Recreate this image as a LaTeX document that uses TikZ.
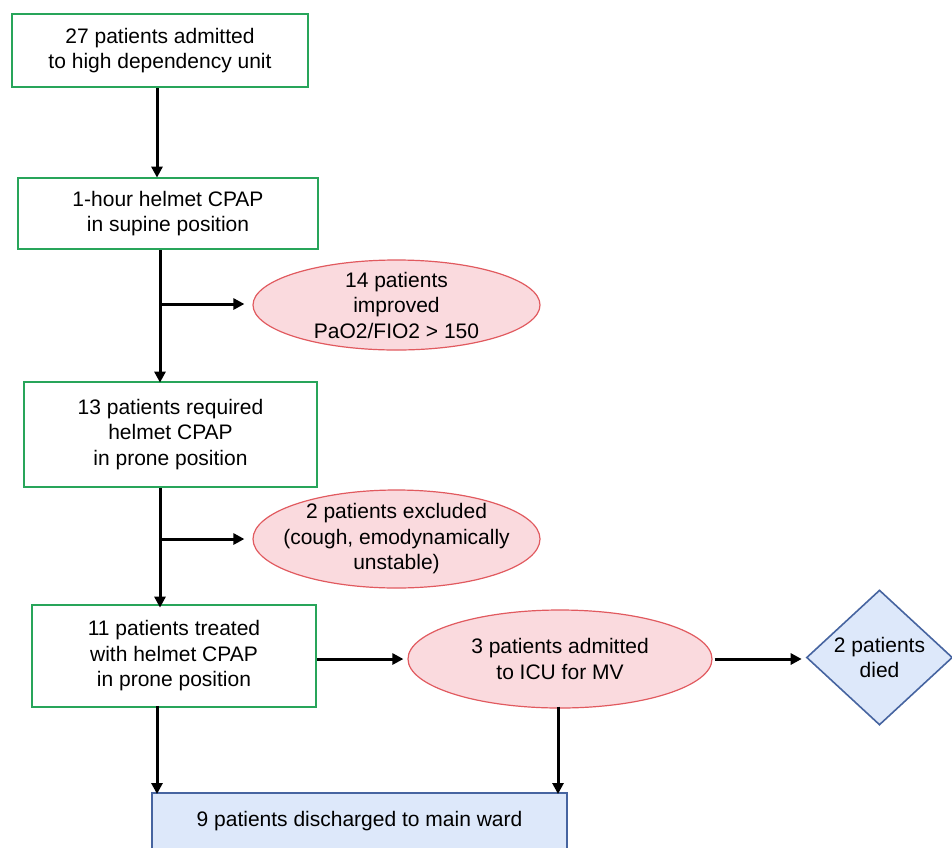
\documentclass[tikz,border=0pt]{standalone}
\usepackage{fontspec}
\setmainfont{Liberation Sans}
\usetikzlibrary{shapes.geometric,arrows.meta}
\definecolor{boxgreen}{RGB}{40,165,90}
\definecolor{pinkfill}{RGB}{250,218,222}
\definecolor{pinkline}{RGB}{225,90,95}
\definecolor{bluefill}{RGB}{221,232,250}
\definecolor{blueline}{RGB}{70,100,160}
\tikzset{
  gbox/.style={draw=boxgreen,line width=2.8pt,fill=white,align=center,inner sep=0pt},
  pell/.style={ellipse,draw=pinkline,line width=1.2pt,fill=pinkfill,align=center,inner sep=0pt},
  bbox/.style={draw=blueline,line width=1.6pt,fill=bluefill,align=center,inner sep=0pt},
  arr/.style={line width=3pt,-{Triangle[length=11pt,width=11pt]}},
  txt/.style={align=center,inner sep=0pt}
}
\begin{document}
\begin{tikzpicture}[x=1pt,y=-1pt,font=\fontsize{21}{25.5}\selectfont]
\useasboundingbox (0,0) rectangle (952,847);
\clip (0,0) rectangle (952,847);
\node[gbox,minimum width=296pt,minimum height=73pt] (b1) at (160,50.5) {27 patients admitted\\to high dependency unit};
\node[gbox,minimum width=300pt,minimum height=71pt] (b2) at (168,213.5) {1-hour helmet CPAP\\in supine position};
\node[pell,minimum width=287pt,minimum height=90pt,inner xsep=-10pt,inner ysep=-8pt] (e1) at (396.5,305) {14 patients\\improved\\PaO2/FIO2 > 150};
\node[gbox,minimum width=293pt,minimum height=105pt] (b3) at (170.5,434.5) {13 patients required\\helmet CPAP\\in prone position};
\node[pell,minimum width=287pt,minimum height=98pt,inner xsep=-25pt,inner ysep=-10pt] (e2) at (396.5,539) {2 patients excluded\\(cough, emodynamically\\unstable)};
\node[gbox,minimum width=284pt,minimum height=102pt] (b4) at (174,656) {11 patients treated\\with helmet CPAP\\in prone position};
\node[pell,minimum width=304pt,minimum height=98pt,inner xsep=-10pt,inner ysep=-5pt] (e3) at (560,659) {3 patients admitted\\to ICU for MV};
\node[diamond,draw=blueline,line width=1.6pt,fill=bluefill,minimum width=146pt,minimum height=135pt,inner sep=0pt] (d) at (879.5,657.5) {};
\node[txt] (dt) at (d.center) {2 patients\\died};
\node[bbox,minimum width=415pt,minimum height=62pt,anchor=north] (b5) at (359.5,792) {};
\node[txt] (b5t) at (359.5,821) {9 patients discharged to main ward};
% connectors
\coordinate (c1) at (157,0);
\draw[arr] (b1.south -| c1) -- ([yshift=-1pt]b2.north -| c1);
\coordinate (j1) at (160,304);
\draw[arr] (b2.south -| j1) -- ([yshift=-2pt]b3.north -| j1);
\draw[arr] (j1) -- ([xshift=-8pt]e1.west |- j1);
\coordinate (j2) at (160,539);
\draw[arr] (b3.south -| j2) -- ([yshift=-4pt]b4.north -| j2);
\draw[arr] (j2) -- ([xshift=-8pt]e2.west);
\draw[arr] (b4.east |- e3) -- ([xshift=-4pt]e3.west);
\draw[arr] ([xshift=2pt]e3.east) -- ([xshift=-4pt]d.west |- e3.east);
\coordinate (c2) at (157,0);
\coordinate (c3) at (558,0);
\draw[arr] ([yshift=2pt]b4.south -| c2) -- ([yshift=-2pt]b5.north -| c2);
\draw[arr] ([yshift=2pt]e3.south -| c3) -- ([yshift=-2pt]b5.north -| c3);
\end{tikzpicture}
\end{document}
